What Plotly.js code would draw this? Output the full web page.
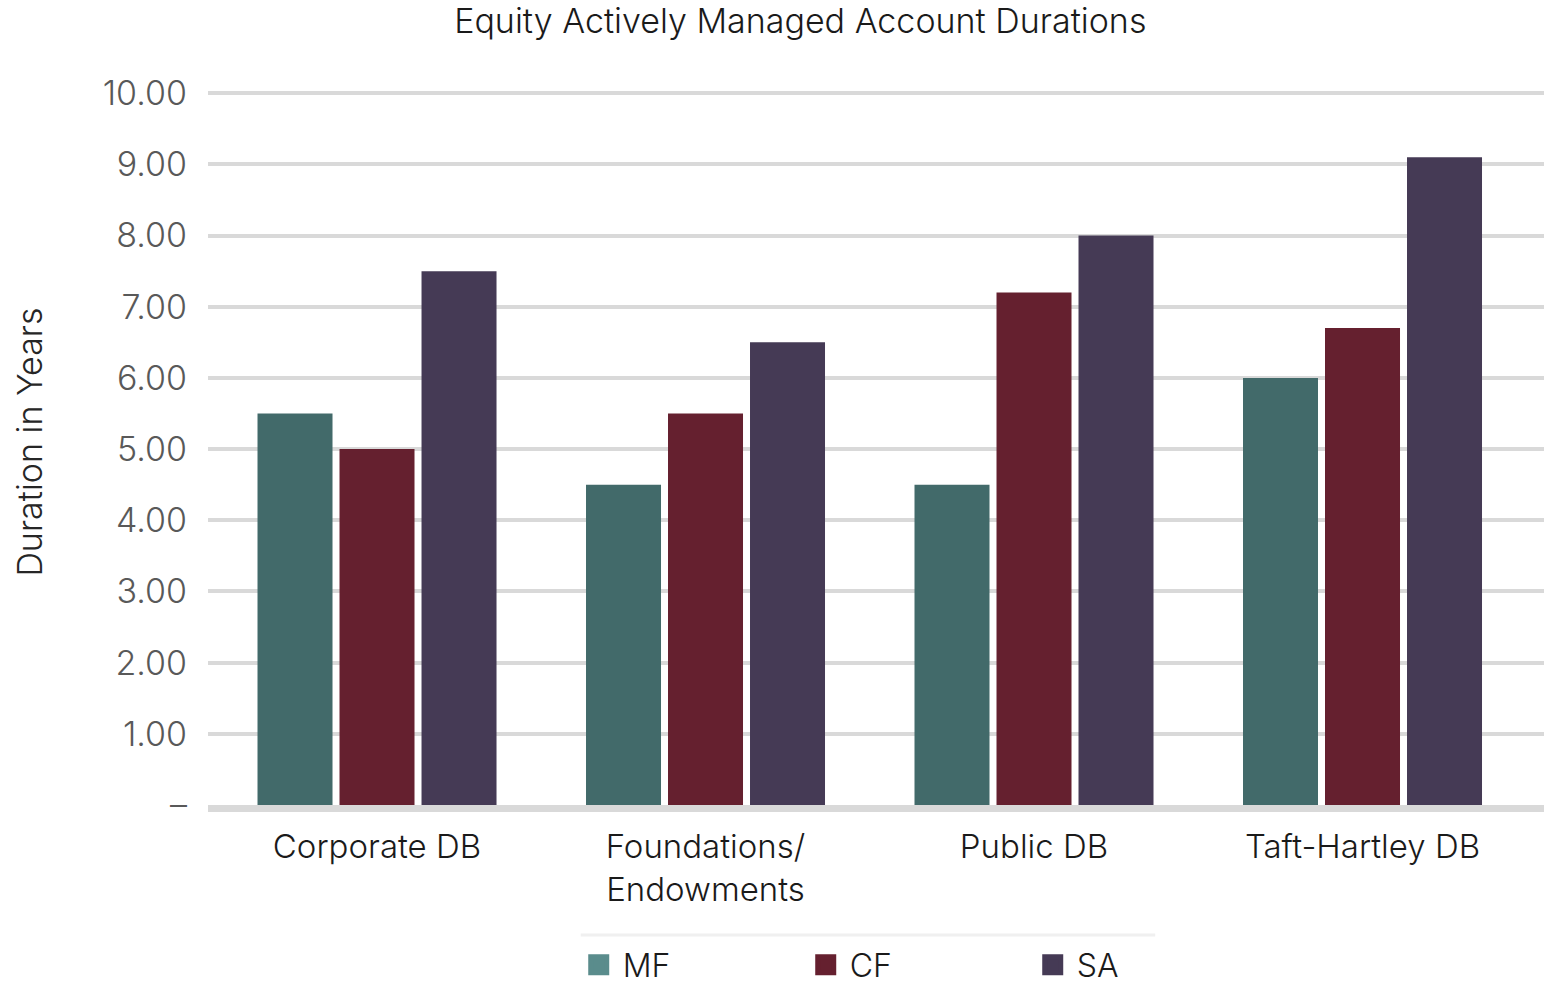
<!DOCTYPE html>
<html>
<head>
<meta charset="utf-8">
<script src="https://cdn.plot.ly/plotly-3.0.1.min.js"></script>
<style>
  html, body { margin: 0; padding: 0; background: #ffffff; }
  #chart { width: 1554px; height: 990px; }
</style>
</head>
<body>
<div id="chart"></div>
<script>
// ---- data ----
const categories = ["Corporate DB", "Foundations/<br>Endowments", "Public DB", "Taft-Hartley DB"];
const seriesNames = ["MF", "CF", "SA"];
const mfValues = [5.5, 4.5, 4.5, 6.0];
const cfValues = [5.0, 5.5, 7.2, 6.7];
const saValues = [7.5, 6.5, 8.0, 9.1];
const yTickVals = [0, 1, 2, 3, 4, 5, 6, 7, 8, 9, 10];
const yTickText = ["–", "1.00", "2.00", "3.00", "4.00", "5.00", "6.00", "7.00", "8.00", "9.00", "10.00"];

// ---- styles ----
const barColors = ["#426a6a", "#65202f", "#453a55"];
const legendColors = ["#5a8c8c", "#65202f", "#453a55"];
const FONT = "Inter, Lato, sans-serif";
const seriesValues = [mfValues, cfValues, saValues];

const traces = seriesValues.map((vals, i) => ({
  type: "bar",
  name: seriesNames[i],
  x: categories,
  y: vals,
  marker: { color: barColors[i], line: { width: 0 } },
  showlegend: false,
  hoverinfo: "x+y+name"
}));

// legend entries (larger square swatches)
seriesNames.forEach((n, i) => {
  traces.push({
    type: "scatter",
    mode: "markers",
    name: n,
    x: [null],
    y: [null],
    marker: { symbol: "square", size: 16, color: legendColors[i], line: { color: legendColors[i], width: 5 } },
    showlegend: true,
    hoverinfo: "skip"
  });
});

const layout = {
  width: 1554,
  height: 990,
  paper_bgcolor: "#ffffff",
  plot_bgcolor: "#ffffff",
  margin: { l: 208, r: 10, t: 79, b: 185, pad: 0, autoexpand: false },
  font: { family: FONT, color: "#1a1a1a", weight: 300 },
  title: {
    text: "Equity Actively Managed Account Durations",
    font: { family: FONT, size: 34, color: "#1a1a1a", weight: 300 },
    xref: "container",
    x: 0.515,
    xanchor: "center",
    yref: "container",
    y: 0.979,
    yanchor: "middle"
  },
  barmode: "group",
  bargap: 0.2511,
  bargroupgap: 0.0854,
  xaxis: {
    type: "category",
    range: [-0.5145, 3.5525],
    showgrid: false,
    zeroline: false,
    showline: true,
    linecolor: "#d9d9d9",
    linewidth: 7,
    ticks: "",
    tickfont: { family: FONT, size: 33, color: "#1a1a1a", weight: 300 },
    ticklabelstandoff: 6,
    automargin: false,
    fixedrange: true
  },
  yaxis: {
    range: [0, 10.2],
    tickvals: yTickVals,
    ticktext: yTickText,
    showgrid: true,
    gridcolor: "#d9d9d9",
    gridwidth: 4,
    zeroline: false,
    showline: false,
    ticks: "",
    tickfont: { family: FONT, size: 34, color: "#595959", weight: 300 },
    ticklabelstandoff: 20,
    automargin: false,
    title: {
      text: "Duration in Years",
      font: { family: FONT, size: 34, color: "#262626", weight: 300 },
      standoff: 49
    },
    fixedrange: true
  },
  legend: {
    orientation: "h",
    xref: "paper",
    x: 0.2745,
    xanchor: "left",
    yref: "container",
    y: 0.0253,
    yanchor: "middle",
    font: { family: FONT, size: 32, color: "#1a1a1a", weight: 300 },
    itemwidth: 38,
    entrywidth: 174,
    entrywidthmode: "pixels",
    bgcolor: "rgba(0,0,0,0)"
  },
  shapes: [
    {
      type: "line",
      xref: "paper", yref: "paper",
      x0: 0.279, x1: 0.709,
      y0: -0.179, y1: -0.179,
      line: { color: "#f0f0f0", width: 3 }
    }
  ]
};

Plotly.newPlot("chart", traces, layout, { displayModeBar: false, staticPlot: true });
</script>
</body>
</html>
